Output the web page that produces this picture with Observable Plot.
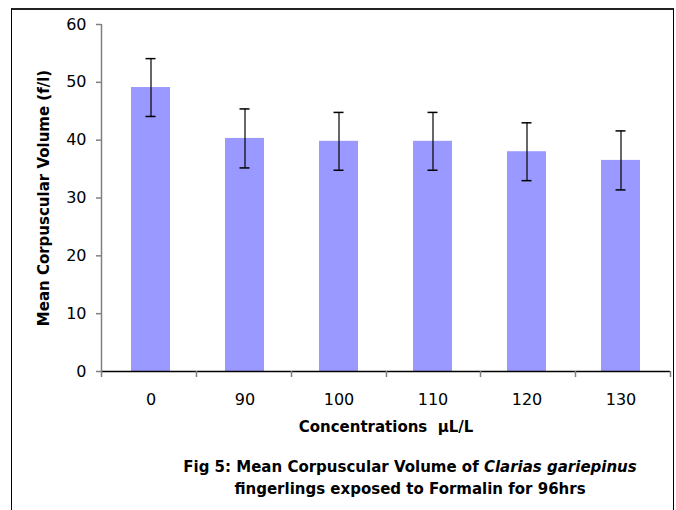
<!DOCTYPE html>
<html>
<head>
<meta charset="utf-8">
<script src="https://cdn.jsdelivr.net/npm/d3@7"></script>
<script src="https://cdn.jsdelivr.net/npm/@observablehq/plot@0.6"></script>
<style>
  html, body { margin: 0; padding: 0; background: #fff; }
  body { width: 676px; height: 510px; overflow: hidden; position: relative; font-family: "DejaVu Sans", sans-serif; }
  #frame { position: absolute; left: 11px; top: 8px; width: 663px; height: 600px; box-sizing: border-box;
           border-left: 1px solid #000; border-right: 1px solid #000; border-top: 2px solid #222; }
  #chart { position: absolute; left: 0; top: 0; }
  #caption { position: absolute; left: 150px; top: 456px; width: 520px; text-align: center;
             font-weight: bold; font-size: 15px; line-height: 22px; color: #000; }
</style>
</head>
<body>
<div id="frame"></div>
<div id="chart"></div>
<div id="caption">Fig 5: Mean Corpuscular Volume of <i>Clarias gariepinus</i><br>fingerlings exposed to Formalin for 96hrs</div>
<script>
const concentrations = ["0", "90", "100", "110", "120", "130"];
const mcv = [49.1, 40.3, 39.8, 39.8, 38.0, 36.5];
const sd = [5.0, 5.1, 5.0, 5.0, 5.0, 5.1];
const yTicks = [0, 10, 20, 30, 40, 50, 60];
const xTitle = "Concentrations  \u00b5L/L";
const yTitle = "Mean Corpuscular Volume (f/l)";

const data = concentrations.map((c, i) => ({conc: c, mcv: mcv[i], lo: mcv[i] - sd[i], hi: mcv[i] + sd[i]}));

const W = 676, H = 450;
const font = "DejaVu Sans, sans-serif";

// axis frame: gray y-axis line and gray x ticks at category boundaries
function axisFrame(index, scales, values, dimensions) {
  const {width, height, marginLeft, marginRight, marginTop, marginBottom} = dimensions;
  const g = d3.create("svg:g");
  const y0 = height - marginBottom;
  g.append("line").attr("x1", marginLeft + 0.5).attr("x2", marginLeft + 0.5)
    .attr("y1", marginTop).attr("y2", y0).attr("stroke", "#808080").attr("stroke-width", 1.5);
  const n = concentrations.length;
  const step = (width - marginLeft - marginRight) / n;
  for (let i = 0; i <= n; i++) {
    const x = Math.round(marginLeft + i * step) + 0.5;
    g.append("line").attr("x1", x).attr("x2", x).attr("y1", y0).attr("y2", y0 + 6)
      .attr("stroke", "#808080").attr("stroke-width", 1.5);
  }
  return g.node();
}

const plot = Plot.plot({
  width: W,
  height: H,
  marginLeft: 101,
  marginRight: 6,
  marginTop: 24,
  marginBottom: 79,
  style: {fontFamily: font, fontSize: "16px", color: "#000", background: "transparent", overflow: "visible"},
  x: {type: "band", domain: concentrations, paddingInner: 0.58, paddingOuter: 0.29, label: null},
  y: {domain: [0, 60], label: null},
  marks: [
    Plot.barY(data, {x: "conc", y: "mcv", fill: "#9999ff"}),
    Plot.ruleX(data, {x: "conc", y1: "lo", y2: "hi", stroke: "#000", strokeWidth: 1.2}),
    Plot.tickY(data, {x: "conc", y: "hi", stroke: "#000", strokeWidth: 1.5, insetLeft: 14.5, insetRight: 14.5}),
    Plot.tickY(data, {x: "conc", y: "lo", stroke: "#000", strokeWidth: 1.5, insetLeft: 14.5, insetRight: 14.5}),
    Plot.ruleY([0], {stroke: "#000", strokeWidth: 1.5}),
    axisFrame,
    Plot.axisY({ticks: yTicks, tickSize: 5, tickPadding: 10, stroke: "#808080", strokeWidth: 1.5, fill: "#000", label: null, fontSize: 16}),
    Plot.axisX({tickSize: 0, tickPadding: 22, label: null, fill: "#000", fontSize: 16}),
    Plot.text([xTitle], {frameAnchor: "bottom", dy: 60, fontWeight: "bold", fontSize: 15, fill: "#000"}),
    Plot.text([yTitle], {frameAnchor: "left", textAnchor: "middle", dx: -57, rotate: -90, fontWeight: "bold", fontSize: 15, fill: "#000"})
  ]
});
document.getElementById("chart").appendChild(plot);
</script>
</body>
</html>
